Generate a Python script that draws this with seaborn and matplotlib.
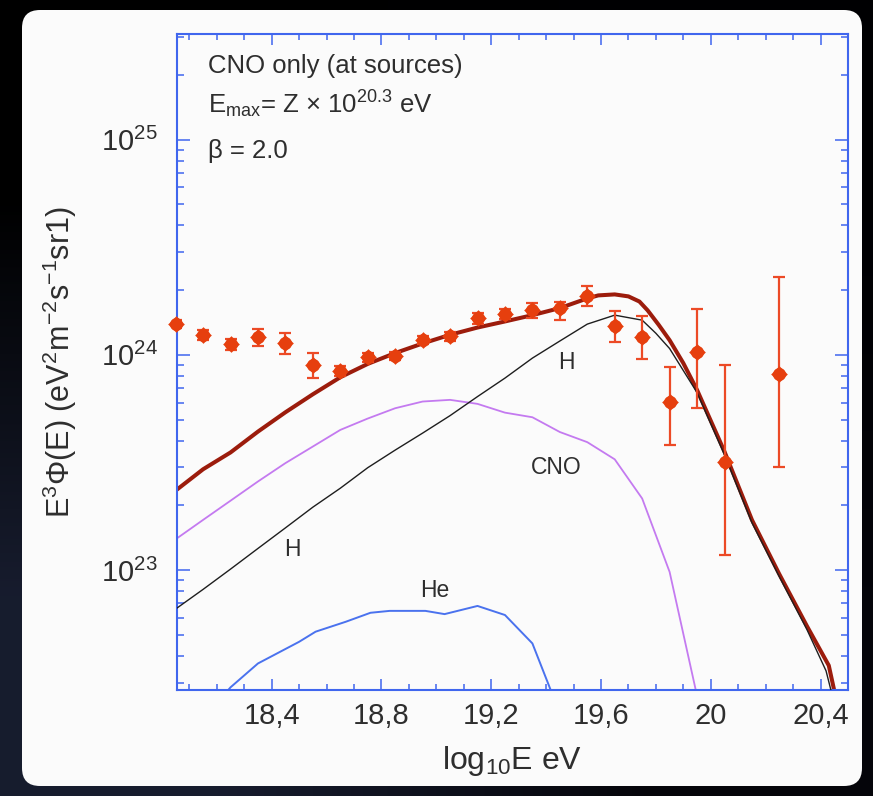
import numpy as np
import pandas as pd
import matplotlib
matplotlib.use("Agg")
import matplotlib.pyplot as plt
from matplotlib.patches import FancyBboxPatch
from matplotlib.ticker import (LogLocator, FixedLocator, MultipleLocator,
                               FuncFormatter, NullFormatter)
import seaborn as sns

# ---------------------------------------------------------------------------
# Measured spectrum: log10(E/eV), E^3 * flux, lower and upper error bounds
# ---------------------------------------------------------------------------
data_logE = [18.05, 18.15, 18.25, 18.35, 18.45, 18.55, 18.65, 18.75, 18.85,
             18.95, 19.05, 19.15, 19.25, 19.35, 19.45, 19.55, 19.65, 19.75,
             19.85, 19.95, 20.05, 20.25]
data_flux = [1.39e24, 1.24e24, 1.12e24, 1.21e24, 1.14e24, 9.0e23, 8.45e23,
             9.75e23, 9.9e23, 1.17e24, 1.22e24, 1.48e24, 1.55e24, 1.61e24,
             1.65e24, 1.88e24, 1.36e24, 1.21e24, 6.03e23, 1.03e24, 3.19e23,
             8.13e23]
data_lo = [1.33e24, 1.17e24, 1.05e24, 1.10e24, 1.01e24, 7.8e23, 8.0e23,
           9.3e23, 9.5e23, 1.12e24, 1.16e24, 1.39e24, 1.47e24, 1.48e24,
           1.45e24, 1.68e24, 1.15e24, 9.55e23, 3.81e23, 5.69e23, 1.17e23,
           3.0e23]
data_hi = [1.45e24, 1.30e24, 1.18e24, 1.32e24, 1.26e24, 1.02e24, 8.9e23,
           1.02e24, 1.03e24, 1.22e24, 1.28e24, 1.56e24, 1.63e24, 1.74e24,
           1.77e24, 2.08e24, 1.60e24, 1.51e24, 8.83e23, 1.63e24, 8.98e23,
           2.30e24]

# ---------------------------------------------------------------------------
# Propagated model: total flux and its H, He and CNO components
# ---------------------------------------------------------------------------
total_logE = [18.05, 18.15, 18.25, 18.35, 18.45, 18.55, 18.65, 18.75, 18.85,
              18.95, 19.05, 19.15, 19.25, 19.35, 19.45, 19.55, 19.59, 19.65,
              19.70, 19.74, 19.77, 19.81, 19.85, 19.90, 19.95, 20.05, 20.15,
              20.25, 20.35, 20.43, 20.46]
total_flux = [2.34e23, 2.94e23, 3.52e23, 4.40e23, 5.41e23, 6.56e23, 7.87e23,
              9.08e23, 1.02e24, 1.13e24, 1.24e24, 1.34e24, 1.43e24, 1.53e24,
              1.65e24, 1.83e24, 1.89e24, 1.91e24, 1.87e24, 1.77e24, 1.61e24,
              1.38e24, 1.17e24, 9.15e23, 6.87e23, 3.55e23, 1.71e23, 9.55e22,
              5.5e22, 3.6e22, 2.4e22]

h_logE = [18.05, 18.15, 18.25, 18.35, 18.45, 18.55, 18.65, 18.75, 18.85,
          18.95, 19.05, 19.15, 19.25, 19.35, 19.45, 19.55, 19.65, 19.75,
          19.80, 19.85, 19.95, 20.05, 20.15, 20.25, 20.35, 20.42, 20.45]
h_flux = [6.59e22, 8.13e22, 1.01e23, 1.26e23, 1.57e23, 1.96e23, 2.40e23,
          2.99e23, 3.61e23, 4.33e23, 5.22e23, 6.40e23, 7.80e23, 9.66e23,
          1.16e24, 1.39e24, 1.53e24, 1.45e24, 1.26e24, 1.07e24, 6.68e23,
          3.43e23, 1.66e23, 9.3e22, 5.3e22, 3.4e22, 2.4e22]

cno_logE = [18.05, 18.15, 18.25, 18.35, 18.45, 18.55, 18.65, 18.75, 18.85,
            18.95, 19.05, 19.15, 19.25, 19.35, 19.45, 19.55, 19.65, 19.75,
            19.85, 19.95]
cno_flux = [1.39e23, 1.71e23, 2.10e23, 2.58e23, 3.14e23, 3.75e23, 4.48e23,
            5.06e23, 5.65e23, 6.07e23, 6.18e23, 5.92e23, 5.39e23, 5.13e23,
            4.38e23, 3.93e23, 3.27e23, 2.15e23, 9.8e22, 2.6e22]

he_logE = [18.20, 18.25, 18.35, 18.50, 18.56, 18.67, 18.76, 18.83, 18.96,
           19.03, 19.15, 19.25, 19.35, 19.42, 19.45]
he_flux = [2.4e22, 2.85e22, 3.68e22, 4.64e22, 5.17e22, 5.75e22, 6.33e22,
           6.46e22, 6.46e22, 6.24e22, 6.81e22, 6.18e22, 4.56e22, 2.7e22,
           2.2e22]

# curve labels: text, log10 E, flux
curve_labels = [("H", 19.473, 9.2e23), ("CNO", 19.436, 3.01e23),
                ("H", 18.476, 1.24e23), ("He", 18.993, 8.07e22)]

xtick_values = [18.4, 18.8, 19.2, 19.6, 20.0, 20.4]
xtick_labels = ["18,4", "18,8", "19,2", "19,6", "20", "20,4"]

# ---------------------------------------------------------------------------
sns.set_theme(style="ticks")
plt.rcParams["font.family"] = ["Liberation Sans", "DejaVu Sans"]
plt.rcParams["mathtext.fontset"] = "custom"
plt.rcParams["mathtext.rm"] = "Liberation Sans"
plt.rcParams["mathtext.it"] = "Liberation Sans:italic"
plt.rcParams["mathtext.bf"] = "Liberation Sans:bold"

W, H = 873, 796
DPI = 100
fig = plt.figure(figsize=(W / DPI, H / DPI), dpi=DPI)
fig.patch.set_facecolor("#000000")

# dark slide background with a faint navy glow in the lower left
bg = fig.add_axes([0, 0, 1, 1], zorder=-20)
bg.axis("off")
grad = np.array([[[0.0, 0.0, 0.0], [0.0, 0.0, 0.01]],
                 [[0.09, 0.11, 0.18], [0.02, 0.02, 0.04]]])
bg.imshow(grad, extent=[0, 1, 0, 1], aspect="auto", interpolation="bilinear",
          origin="upper")

# white rounded card
card = FancyBboxPatch((22, H - 786), 840, 776,
                      boxstyle="round,pad=0,rounding_size=18",
                      transform=None, facecolor="#fbfbfb", edgecolor="none",
                      zorder=-10)
fig.add_artist(card)

L, R, T, B = 177, 848, 34, 690
ax = fig.add_axes([L / W, 1 - B / H, (R - L) / W, (B - T) / H])
ax.set_facecolor("#fbfbfb")
ax.set_yscale("log")

TXT = "#2e2e2e"
BLUE = "#4066ee"

sns.lineplot(x=he_logE, y=he_flux, ax=ax, color="#4a72ee", lw=1.4,
             sort=False, estimator=None, zorder=2)
sns.lineplot(x=cno_logE, y=cno_flux, ax=ax, color="#c47af0", lw=1.3,
             sort=False, estimator=None, zorder=2)
sns.lineplot(x=h_logE, y=h_flux, ax=ax, color="#1e1e1e", lw=1.0,
             sort=False, estimator=None, zorder=3)
sns.lineplot(x=total_logE, y=total_flux, ax=ax, color="#9c1c0c", lw=2.9,
             sort=False, estimator=None, zorder=2.5)

flux = np.array(data_flux)
yerr = [flux - np.array(data_lo), np.array(data_hi) - flux]
ax.errorbar(data_logE, data_flux, yerr=yerr, fmt="none", ecolor="#ec4a26",
            elinewidth=1.6, capsize=4.5, capthick=1.6, zorder=4)
sns.scatterplot(x=data_logE, y=data_flux, ax=ax, marker="o", s=88,
                color="#e63f0e", linewidth=0, zorder=5, clip_on=False)
sns.scatterplot(x=data_logE, y=data_flux, ax=ax, marker="D", s=72,
                color="#e63f0e", linewidth=0, zorder=5, clip_on=False)

for txt, xv, yv in curve_labels:
    ax.text(xv, yv, txt, ha="center", va="center", fontsize=16.5, color=TXT)

ax.set_xlim(18.055, 20.50)
ax.set_ylim(2.77e22, 3.1e25)

ax.xaxis.set_major_locator(FixedLocator(xtick_values))
ax.set_xticklabels(xtick_labels)
ax.xaxis.set_minor_locator(MultipleLocator(0.1))
ax.yaxis.set_major_locator(LogLocator(base=10, numticks=10))
ax.yaxis.set_minor_locator(LogLocator(base=10, subs=np.arange(2, 10),
                                      numticks=40))
ax.yaxis.set_major_formatter(
    FuncFormatter(lambda v, p: r"$10^{%d}$" % int(round(np.log10(v)))))
ax.yaxis.set_minor_formatter(NullFormatter())

ax.tick_params(axis="both", which="both", direction="in", colors=BLUE,
               top=True, right=True, labelcolor=TXT)
ax.tick_params(axis="both", which="major", width=1.1, labelsize=21)
ax.tick_params(axis="both", which="minor", width=1.1)
ax.tick_params(axis="x", which="major", length=8, pad=9)
ax.tick_params(axis="x", which="minor", length=4.5)
ax.tick_params(axis="y", which="major", length=9.5, pad=14)
ax.tick_params(axis="y", which="minor", length=5)
for sp in ax.spines.values():
    sp.set_color(BLUE)
    sp.set_linewidth(1.5)
ax.set_xlabel("")
ax.set_ylabel("")

# axis titles
fig.text(60 / W, 1 - 362 / H,
         r"E$^3$$\Phi$(E) (eV$^2$m$^{-2}$s$^{-1}$sr1)",
         rotation=90, ha="center", va="center", fontsize=22, color=TXT)
fig.text(512 / W, 1 - 761 / H, r"log$_{10}$E eV", ha="center",
         va="center", fontsize=23, color=TXT)

# model description
ax.text(0.046, 0.940, "CNO only (at sources)", transform=ax.transAxes,
        ha="left", va="baseline", fontsize=18.5, color=TXT)
ax.text(0.046, 0.879, r"E$_{\rm max}$= Z × 10$^{20.3}$ eV",
        transform=ax.transAxes, ha="left", va="baseline", fontsize=18.5,
        color=TXT)
ax.text(0.046, 0.8105, "β = 2.0", transform=ax.transAxes, ha="left",
        va="baseline", fontsize=18.5, color=TXT)

fig.savefig("out.png", dpi=DPI, facecolor=fig.get_facecolor())
